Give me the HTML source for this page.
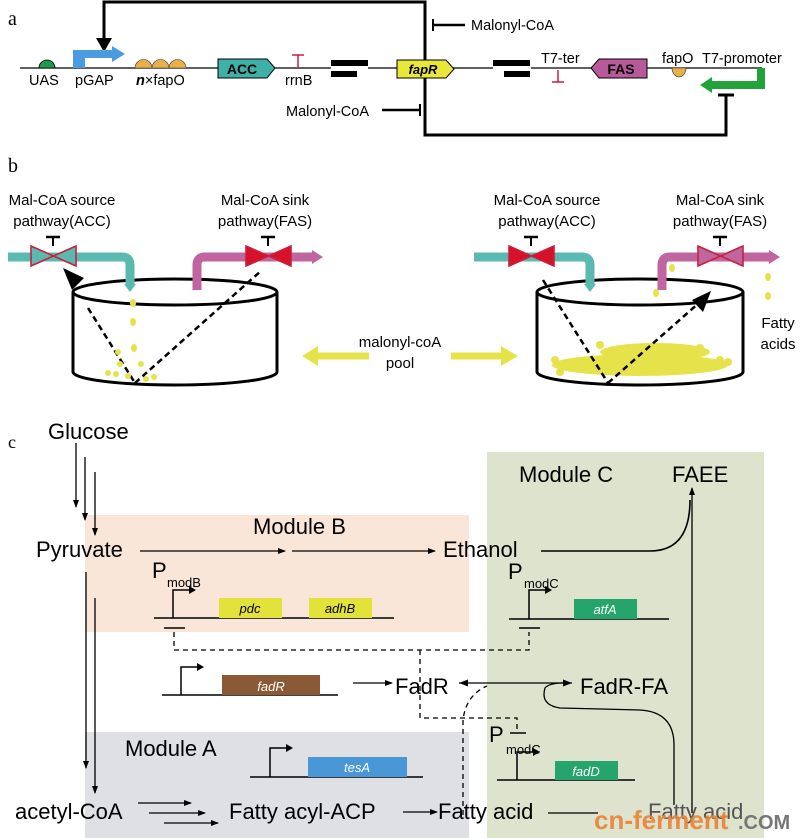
<!DOCTYPE html>
<html><head><meta charset="utf-8"><style>
html,body{margin:0;padding:0;background:#fff}
svg{display:block}
text{font-family:"Liberation Sans",sans-serif}
.s{font-family:"Liberation Serif",serif}
</style></head><body>
<svg width="800" height="838" viewBox="0 0 800 838" xmlns="http://www.w3.org/2000/svg">
<defs>
<marker id="ah" markerWidth="8" markerHeight="8" refX="7" refY="4" orient="auto" markerUnits="userSpaceOnUse"><path d="M0,1 L8,4 L0,7 Z" fill="#000"/></marker>
<marker id="ahs" markerWidth="10" markerHeight="10" refX="9" refY="5" orient="auto-start-reverse" markerUnits="userSpaceOnUse"><path d="M0,1.5 L9,5 L0,8.5 Z" fill="#000"/></marker>
</defs>

<!-- ===== Panel a ===== -->
<text x="8" y="25" class="s" font-size="20">a</text>
<polyline points="425,60 425,2 104,2 104,40" fill="none" stroke="#000" stroke-width="3"/>
<path d="M96,38 L104,52 L112,38 Z" fill="#000"/>
<line x1="433" y1="25" x2="465" y2="25" stroke="#000" stroke-width="2.5"/>
<line x1="433" y1="19" x2="433" y2="31" stroke="#000" stroke-width="2"/>
<text x="471" y="30" font-size="14.5">Malonyl-CoA</text>
<line x1="20" y1="68" x2="331" y2="68" stroke="#000" stroke-width="1.2"/>
<line x1="368" y1="68" x2="493" y2="68" stroke="#000" stroke-width="1.2"/>
<line x1="531" y1="68" x2="762" y2="68" stroke="#000" stroke-width="1.2"/>
<path d="M39,68 A8,8 0 0 1 55,68 Z" fill="#1e9a4a" stroke="#000" stroke-width="0.8"/>
<path d="M73,68 L73,50 L112,50 L112,46 L125,54 L112,62 L112,58 L85,58 L85,68 Z" fill="#4a9be0"/>
<g fill="#e8b04a" stroke="#333" stroke-width="0.6">
<path d="M135,68 A8.5,8.5 0 0 1 152,68 Z"/><path d="M152,68 A8.5,8.5 0 0 1 169,68 Z"/><path d="M169,68 A8.5,8.5 0 0 1 186,68 Z"/>
</g>
<path d="M218,59 L267,59 L275,68 L267,78 L218,78 Z" fill="#3fb0a8" stroke="#000" stroke-width="1"/>
<text x="242" y="74" font-size="14" font-weight="bold" text-anchor="middle">ACC</text>
<line x1="298" y1="55" x2="298" y2="68" stroke="#c8203a" stroke-width="1.5"/><line x1="292" y1="55" x2="304" y2="55" stroke="#c8203a" stroke-width="1.5"/>
<rect x="331" y="60" width="37" height="6" fill="#000"/><rect x="331" y="71" width="26" height="6" fill="#000"/>
<path d="M397,60 L446,60 L454,69 L446,78 L397,78 Z" fill="#e9e83a" stroke="#000" stroke-width="1"/>
<text x="423" y="74" font-size="13" font-weight="bold" font-style="italic" text-anchor="middle">fapR</text>
<rect x="493" y="60" width="37" height="6" fill="#000"/><rect x="504" y="71" width="26" height="6" fill="#000"/>
<text x="541" y="63" font-size="14.5">T7-ter</text>
<line x1="558" y1="70" x2="558" y2="82" stroke="#c8203a" stroke-width="1.5"/><line x1="552" y1="82" x2="564" y2="82" stroke="#c8203a" stroke-width="1.5"/>
<path d="M599,59 L647,59 L647,78 L599,78 L591,68 Z" fill="#b85a9a" stroke="#000" stroke-width="1"/>
<text x="621" y="74" font-size="14" font-weight="bold" text-anchor="middle">FAS</text>
<path d="M672,68 A7,9 0 0 0 686,68 Z" fill="#e8b04a" stroke="#333" stroke-width="0.6"/>
<text x="662" y="63" font-size="14.5">fapO</text>
<text x="702" y="63" font-size="14.5">T7-promoter</text>
<path d="M757,68 L765,68 L765,89 L712,89 L712,93 L700,85 L712,77 L712,81 L757,81 Z" fill="#22a33a"/>
<text x="29" y="85" font-size="14.5">UAS</text>
<text x="75" y="85" font-size="14.5">pGAP</text>
<text x="136" y="85" font-size="14.5"><tspan font-weight="bold" font-style="italic">n</tspan>×fapO</text>
<text x="285" y="85" font-size="14.5">rrnB</text>
<polyline points="425,78 425,135 726,135 726,95" fill="none" stroke="#000" stroke-width="3"/>
<line x1="718" y1="95" x2="734" y2="95" stroke="#000" stroke-width="3"/>
<text x="286" y="116" font-size="14.5">Malonyl-CoA</text>
<line x1="382" y1="110" x2="420" y2="110" stroke="#000" stroke-width="2.5"/>
<line x1="420" y1="104" x2="420" y2="116" stroke="#000" stroke-width="2"/>

<!-- ===== Panel b ===== -->
<text x="8" y="172" class="s" font-size="20">b</text>
<g font-size="15" text-anchor="middle">
<text x="62" y="205">Mal-CoA source</text><text x="62" y="226">pathway(ACC)</text>
<text x="265" y="205">Mal-CoA sink</text><text x="265" y="226">pathway(FAS)</text>
<text x="547" y="205">Mal-CoA source</text><text x="547" y="226">pathway(ACC)</text>
<text x="720" y="205">Mal-CoA sink</text><text x="720" y="226">pathway(FAS)</text>
<text x="400" y="347">malonyl-coA</text><text x="400" y="368">pool</text>
<text x="778" y="328">Fatty</text><text x="778" y="349">acids</text>
</g>
<!-- left tank -->
<path d="M73,292 L73,372 A102,13 0 0 0 277,372 L277,292" fill="#fff" stroke="#000" stroke-width="3"/>
<ellipse cx="175" cy="292" rx="102" ry="13" fill="#fff" stroke="#000" stroke-width="3"/>
<path d="M8,257 L122,257 Q130,257 130,265 L130,286" fill="none" stroke="#5bbab0" stroke-width="9"/>
<path d="M124,284 L130,292 L136,284 Z" fill="#5bbab0"/>
<path d="M197,290 L197,265 Q197,257 205,257 L314,257" fill="none" stroke="#c065a0" stroke-width="9"/>
<path d="M312,250 L323,257 L312,264 Z" fill="#c065a0"/>
<path d="M31,246 L76,266 L76,246 L31,266 Z" fill="#5bbab0" stroke="#c8203a" stroke-width="1.6"/>
<line x1="53" y1="246" x2="53" y2="237" stroke="#000" stroke-width="2"/><line x1="46" y1="237" x2="60" y2="237" stroke="#000" stroke-width="2.5"/>
<path d="M246,246 L291,266 L291,246 L246,266 Z" fill="#d8102a" stroke="#c8203a" stroke-width="1.6"/>
<line x1="268" y1="246" x2="268" y2="237" stroke="#000" stroke-width="2"/><line x1="261" y1="237" x2="275" y2="237" stroke="#000" stroke-width="2.5"/>
<g stroke="#000" stroke-width="2.5" stroke-dasharray="6,4" fill="none">
<line x1="88" y1="308" x2="135" y2="383"/><line x1="135" y1="383" x2="262" y2="270"/>
</g>
<path d="M63,268 L84,278 L72,290 Z" fill="#000"/>
<g fill="#e6e34a">
<ellipse cx="133" cy="303" rx="3" ry="4"/><ellipse cx="133" cy="322" rx="3" ry="4"/><ellipse cx="134" cy="348" rx="3" ry="4"/>
<circle cx="118" cy="352" r="3"/><circle cx="120" cy="364" r="3"/><circle cx="141" cy="364" r="3"/><circle cx="108" cy="373" r="3"/><circle cx="116" cy="374" r="3"/><circle cx="146" cy="379" r="3"/><circle cx="154" cy="377" r="3"/><circle cx="128" cy="376" r="3"/>
</g>
<!-- right tank -->
<path d="M537,292 L537,372 A103,13 0 0 0 743,372 L743,292" fill="#fff" stroke="#000" stroke-width="3"/>
<ellipse cx="640" cy="292" rx="103" ry="13" fill="#fff" stroke="#000" stroke-width="3"/>
<g fill="#e6e34a">
<ellipse cx="640" cy="365" rx="88" ry="11"/><ellipse cx="655" cy="352" rx="55" ry="9"/>
<circle cx="555" cy="360" r="4"/><circle cx="560" cy="372" r="4"/><circle cx="720" cy="360" r="4"/><circle cx="728" cy="362" r="4"/><circle cx="600" cy="345" r="4"/><circle cx="700" cy="348" r="4"/>
<ellipse cx="656" cy="293" rx="3" ry="4"/><ellipse cx="672" cy="268" rx="3" ry="4"/><ellipse cx="768" cy="277" rx="3" ry="4"/><ellipse cx="768" cy="296" rx="3" ry="4"/>
</g>
<path d="M474,257 L582,257 Q590,257 590,265 L590,286" fill="none" stroke="#5bbab0" stroke-width="9"/>
<path d="M584,284 L590,292 L596,284 Z" fill="#5bbab0"/>
<path d="M662,290 L662,265 Q662,257 670,257 L771,257" fill="none" stroke="#c065a0" stroke-width="9"/>
<path d="M769,250 L780,257 L769,264 Z" fill="#c065a0"/>
<path d="M509,246 L554,266 L554,246 L509,266 Z" fill="#d8102a" stroke="#c8203a" stroke-width="1.6"/>
<line x1="531" y1="246" x2="531" y2="237" stroke="#000" stroke-width="2"/><line x1="524" y1="237" x2="538" y2="237" stroke="#000" stroke-width="2.5"/>
<path d="M698,246 L743,266 L743,246 L698,266 Z" fill="#c065a0" stroke="#c8203a" stroke-width="1.6"/>
<line x1="720" y1="246" x2="720" y2="237" stroke="#000" stroke-width="2"/><line x1="713" y1="237" x2="727" y2="237" stroke="#000" stroke-width="2.5"/>
<g stroke="#000" stroke-width="2.5" stroke-dasharray="6,4" fill="none">
<line x1="543" y1="280" x2="608" y2="383"/><line x1="608" y1="383" x2="700" y2="302"/>
</g>
<path d="M711,291 L703,312 L692,300 Z" fill="#000"/>
<line x1="369" y1="356" x2="316" y2="356" stroke="#e6e34a" stroke-width="7"/>
<path d="M318,346 L302,356 L318,366 Z" fill="#e6e34a"/>
<line x1="451" y1="356" x2="503" y2="356" stroke="#e6e34a" stroke-width="7"/>
<path d="M501,346 L518,356 L501,366 Z" fill="#e6e34a"/>

<!-- ===== Panel c ===== -->
<rect x="85" y="515" width="384" height="117" fill="#f9e6d8"/>
<rect x="487" y="452" width="277" height="386" fill="#dde3cc"/>
<rect x="85" y="732" width="384" height="106" fill="#dee0e4"/>
<text x="8" y="448" class="s" font-size="18">c</text>
<g font-size="22">
<text x="48" y="439">Glucose</text>
<text x="36" y="557">Pyruvate</text>
<text x="443" y="557">Ethanol</text>
<text x="672" y="482">FAEE</text>
<text x="519" y="482">Module C</text>
<text x="253" y="534">Module B</text>
<text x="125" y="756">Module A</text>
<text x="395" y="694">FadR</text>
<text x="580" y="694">FadR-FA</text>
<text x="15" y="819">acetyl-CoA</text>
<text x="229" y="819">Fatty acyl-ACP</text>
<text x="438" y="819">Fatty acid</text>
<text x="648" y="819" fill="#555">Fatty acid</text>
<text x="152" y="578">P</text><text x="508" y="579">P</text><text x="489" y="742">P</text>
</g>
<g font-size="13">
<text x="167" y="587">modB</text><text x="524" y="588">modC</text><text x="506" y="754">modC</text>
</g>
<g stroke="#000" stroke-width="1.3" fill="none" marker-end="url(#ah)">
<line x1="76" y1="443" x2="76" y2="507"/><line x1="85" y1="457" x2="85" y2="520"/><line x1="95" y1="472" x2="95" y2="535"/>
<line x1="140" y1="551" x2="285" y2="551"/><line x1="292" y1="551" x2="435" y2="551"/>
<line x1="86" y1="572" x2="86" y2="768"/><line x1="95" y1="598" x2="95" y2="793"/>
<line x1="692" y1="813" x2="692" y2="488"/>
<line x1="353" y1="683" x2="392" y2="683"/>
<line x1="138" y1="803" x2="191" y2="803"/><line x1="149" y1="813" x2="205" y2="813"/><line x1="164" y1="823" x2="218" y2="823"/>
<line x1="403" y1="812" x2="437" y2="812"/>
<path d="M674,805 L674,745 Q674,712 640,710 L560,708 Q540,705 545,688 Q550,682 570,683" />
</g>
<path d="M541,551 L650,551 Q690,551 690,500" stroke="#000" stroke-width="1.6" fill="none"/>
<line x1="459" y1="683" x2="572" y2="683" stroke="#000" stroke-width="1.3" marker-start="url(#ahs)" marker-end="url(#ahs)"/>
<line x1="548" y1="813" x2="598" y2="813" stroke="#000" stroke-width="1.3"/>
<g stroke="#000" stroke-width="1.5" fill="none">
<line x1="154" y1="618" x2="394" y2="618"/><polyline points="173,618 173,590 190,590"/>
<line x1="509" y1="619" x2="669" y2="619"/><polyline points="529,619 529,590 546,590"/>
<line x1="162" y1="695" x2="338" y2="695"/><polyline points="181,695 181,667 198,667"/>
<line x1="250" y1="777" x2="423" y2="777"/><polyline points="270,777 270,748 287,748"/>
<line x1="497" y1="780" x2="635" y2="780"/><polyline points="517,780 517,752 534,752"/>
</g>
<g fill="#000">
<path d="M189,586 L196,590 L189,594Z"/><path d="M545,586 L552,590 L545,594Z"/><path d="M197,663 L204,667 L197,671Z"/><path d="M286,744 L293,748 L286,752Z"/><path d="M533,748 L540,752 L533,756Z"/>
</g>
<rect x="219" y="598" width="63" height="20" fill="#e2e23a"/><rect x="309" y="598" width="63" height="20" fill="#e2e23a"/>
<rect x="574" y="599" width="63" height="20" fill="#25a56c"/>
<rect x="222" y="675" width="98" height="20" fill="#8a5a36"/>
<rect x="308" y="757" width="99" height="20" fill="#4a97d8"/>
<rect x="555" y="761" width="63" height="19" fill="#25a56c"/>
<g font-size="13" font-style="italic" text-anchor="middle">
<text x="250" y="613">pdc</text><text x="340" y="613">adhB</text>
<text x="605" y="614" fill="#fff">atfA</text><text x="271" y="691" fill="#fff">fadR</text>
<text x="357" y="772" fill="#fff">tesA</text><text x="586" y="776" fill="#fff">fadD</text>
</g>
<g stroke="#000" stroke-width="1.5"><line x1="164" y1="628" x2="185" y2="628"/><line x1="519" y1="628" x2="540" y2="628"/><line x1="510" y1="733" x2="526" y2="733"/></g>
<g stroke="#000" stroke-width="1.3" fill="none" stroke-dasharray="5,4">
<polyline points="174,632 174,650 529,650 529,632"/>
<polyline points="420,650 420,718 517,718 517,733"/>
<path d="M463,815 L463,720 Q466,695 487,686"/>
</g>
<text x="594" y="829" font-size="26" font-weight="bold" fill="#e8843a" opacity="0.92">cn-ferment</text>
<text x="738" y="829" font-size="20" font-weight="bold" fill="#777">.COM</text>
</svg>
</body></html>
